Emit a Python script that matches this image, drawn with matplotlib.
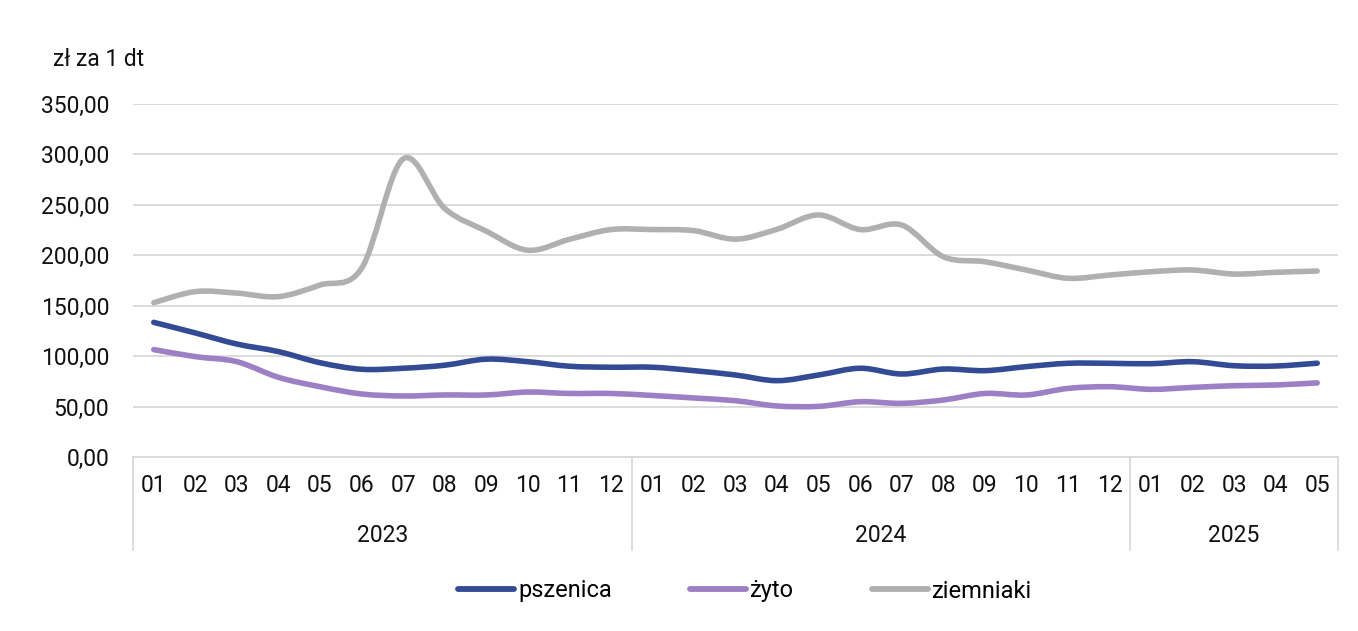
import numpy as np
import matplotlib.pyplot as plt
from matplotlib.path import Path
from matplotlib.patches import PathPatch
from matplotlib.lines import Line2D
from matplotlib.ticker import FuncFormatter
import matplotlib.transforms as mtransforms

plt.rcParams['font.family'] = ['Roboto', 'DejaVu Sans']

# months on the x axis, grouped by year
months = ["01", "02", "03", "04", "05", "06", "07", "08", "09", "10", "11", "12",
          "01", "02", "03", "04", "05", "06", "07", "08", "09", "10", "11", "12",
          "01", "02", "03", "04", "05"]
years = ["2023", "2024", "2025"]
year_len = [12, 12, 5]

# prices, zl per 1 dt
pszenica = [133.5, 123, 112, 104.5, 93.5, 87, 88, 91, 97, 94.5, 90, 89,
            89, 85.6, 81.3, 75.7, 81.3, 88, 82.3, 87.2, 85.6, 89.6, 92.9, 92.9,
            92.5, 94.5, 90.5, 90.2, 93]
zyto = [106.5, 99.5, 94.5, 79, 69.7, 62.5, 60.5, 61.5, 61.5, 64.4, 63, 63,
        61, 58.5, 55.8, 50.6, 50.2, 54.8, 53.2, 56.5, 63, 61.5, 68, 69.7,
        67.1, 69, 70.7, 71.4, 73.5]
ziemniaki = [153, 164, 162.5, 159, 170.5, 187, 295.5, 246.5, 224, 205, 215.8, 225.5,
             225.5, 224.4, 216, 225.8, 240, 225.5, 230, 198.6, 193.6, 185.4, 177.2, 180.4,
             183.7, 185.4, 181.4, 183.1, 184.4]

series = [("pszenica", pszenica, "#334A94"),
          ("żyto", zyto, "#9C7FC4"),
          ("ziemniaki", ziemniaki, "#B0B0B0")]


# Excel-like smoothed line: cubic bezier through every point
def smooth_path(xs, ys):
    pts = np.column_stack([xs, ys]).astype(float)
    n = len(pts)
    verts = [pts[0]]
    codes = [Path.MOVETO]
    for i in range(n - 1):
        p_prev = pts[max(i - 1, 0)]
        p0 = pts[i]
        p1 = pts[i + 1]
        p_next = pts[min(i + 2, n - 1)]
        c1 = p0 + (p1 - p_prev) / 6
        c2 = p1 - (p_next - p0) / 6
        verts += [c1, c2, p1]
        codes += [Path.CURVE4] * 3
    return Path(verts, codes)


fig = plt.figure(figsize=(13.58, 6.31), dpi=100)
fig.patch.set_facecolor("white")
ax = fig.add_axes([133 / 1358, 1 - 457 / 631, (1338 - 133) / 1358, (457 - 104) / 631])

x = np.arange(len(months))
for name, vals, col in series:
    patch = PathPatch(smooth_path(x, vals), fill=False, edgecolor=col, lw=4,
                      capstyle="round", joinstyle="round", zorder=3)
    ax.add_patch(patch)

ax.set_xlim(-0.5, len(months) - 0.5)
ax.set_ylim(0, 350)
ax.set_yticks(np.arange(0, 351, 50))
ax.yaxis.set_major_formatter(FuncFormatter(lambda v, p: f"{v:.2f}".replace(".", ",")))
ax.grid(axis="y", color="#D9D9D9", lw=1.3)
ax.set_axisbelow(True)
for s in ["top", "right", "left"]:
    ax.spines[s].set_visible(False)
ax.spines["bottom"].set_color("#D9D9D9")
ax.spines["bottom"].set_linewidth(1.3)

ax.set_xticks(x)
ax.set_xticklabels(months)
ax.tick_params(axis="both", length=0, labelsize=16.5, colors="#111111")
ax.tick_params(axis="y", pad=17)
ax.tick_params(axis="x", pad=12)

# year groups below months
trans = mtransforms.blended_transform_factory(ax.transData, ax.transAxes)
start = 0
bounds = [-0.5]
for yr, ln in zip(years, year_len):
    ax.text(start + (ln - 1) / 2, -0.222, yr, transform=trans, ha="center", va="center",
            fontsize=16.5, color="#111111")
    start += ln
    bounds.append(start - 0.5)
for b in bounds:
    ax.plot([b, b], [0, -0.263], transform=trans, color="#D9D9D9", lw=1.3, clip_on=False)

fig.text(53 / 1358, 1 - 59 / 631, "zł za 1 dt", fontsize=16.5, va="center", ha="left",
         color="#111111")

handles = [Line2D([], [], color=col, lw=4.2, solid_capstyle="round") for _, _, col in series]
fig.legend(handles, [s[0] for s in series], loc="center", bbox_to_anchor=(745 / 1358, 1 - 591 / 631),
           ncol=3, frameon=False, fontsize=17, handlelength=2.4, handletextpad=0.15,
           columnspacing=3.3)

fig.savefig("out.png", dpi=100)
